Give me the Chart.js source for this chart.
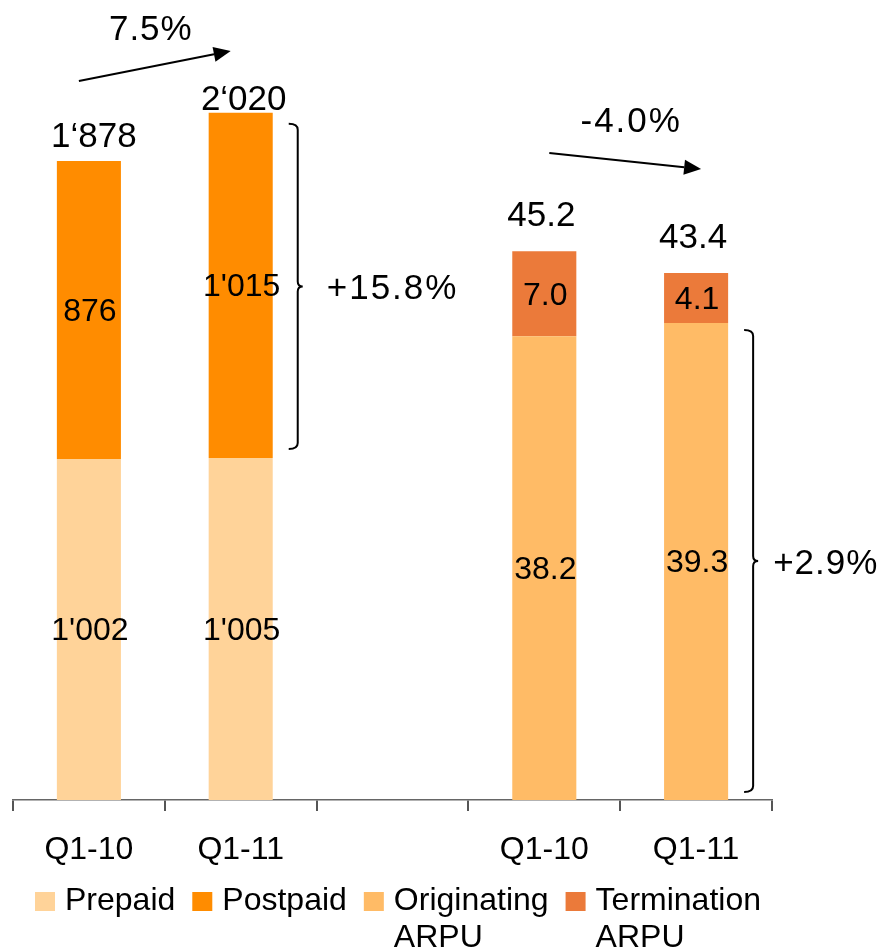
<!DOCTYPE html>
<html>
<head>
<meta charset="utf-8">
<script src="https://cdn.jsdelivr.net/npm/chart.js@4.4.1/dist/chart.umd.min.js"></script>
<style>
  html, body { margin: 0; padding: 0; background: #fff; }
  #wrap { position: relative; width: 886px; height: 950px; }
</style>
</head>
<body>
<div id="wrap"><canvas id="c" width="886" height="950"></canvas></div>
<script>
// ---- Data ----
const categories = ['Q1-10', 'Q1-11', '', 'Q1-10', 'Q1-11'];
const prepaid     = [1002, 1005, null, null, null];
const postpaid    = [876, 1015, null, null, null];
const originating = [null, null, null, 38.2, 39.3];
const termination = [null, null, null, 7.0, 4.1];
const legendLabels = [['Prepaid'], ['Postpaid'], ['Originating', 'ARPU'], ['Termination', 'ARPU']];
const growthLabels = ['7.5%', '-4.0%'];
const bracketLabels = ['+15.8%', '+2.9%'];

const FONT = '"Liberation Sans", Arial, sans-serif';
const colors = ['#FFD399', '#FF8C00', '#FFBB66', '#EB7A3A'];

function fmtThousands(v, sep) {
  const s = String(Math.round(v));
  return s.length > 3 ? s.slice(0, s.length - 3) + sep + s.slice(-3) : s;
}
function fmtVal(v, left, sep) {
  return left ? fmtThousands(v, sep) : v.toFixed(1);
}

const annot = {
  id: 'annot',
  afterDatasetsDraw(chart) {
    const ctx = chart.ctx;
    const ca = chart.chartArea;
    const metas = [0, 1, 2, 3].map(i => chart.getDatasetMeta(i));
    ctx.save();
    ctx.fillStyle = '#000';
    ctx.textAlign = 'center';
    // segment labels
    metas.forEach((m, di) => {
      m.data.forEach((el, j) => {
        const v = chart.data.datasets[di].data[j];
        if (v == null) return;
        ctx.font = '32px ' + FONT;
        ctx.textBaseline = 'middle';
        ctx.fillText(fmtVal(v, di < 2, "'"), el.x + 1, (el.y + el.base) / 2 + 2);
      });
    });
    // totals
    const gaps = [14, 3, 0, 25, 25];
    const xoff = [5, 3, 0, -3, -3];
    for (let j = 0; j < categories.length; j++) {
      const left = j < 2;
      const a = left ? prepaid[j] : originating[j];
      const b = left ? postpaid[j] : termination[j];
      if (a == null) continue;
      const topEl = left ? metas[1].data[j] : metas[3].data[j];
      ctx.font = '35px ' + FONT;
      ctx.textBaseline = 'alphabetic';
      ctx.fillText(fmtVal(a + b, left, '\u2018'), topEl.x + xoff[j], topEl.y - gaps[j]);
    }
    // growth arrows
    function arrow(x1, y1, x2, y2) {
      ctx.strokeStyle = '#000'; ctx.lineWidth = 2;
      const ang = Math.atan2(y2 - y1, x2 - x1);
      const hl = 17, hw = 7.5;
      const bx = x2 - hl * Math.cos(ang), by = y2 - hl * Math.sin(ang);
      ctx.beginPath(); ctx.moveTo(x1, y1); ctx.lineTo(bx, by); ctx.stroke();
      ctx.beginPath();
      ctx.moveTo(x2, y2);
      ctx.lineTo(bx + hw * Math.sin(ang), by - hw * Math.cos(ang));
      ctx.lineTo(bx - hw * Math.sin(ang), by + hw * Math.cos(ang));
      ctx.closePath(); ctx.fill();
    }
    const b0 = metas[1].data[0], b1 = metas[1].data[1];
    const b3 = metas[3].data[3], b4 = metas[3].data[4];
    arrow(b0.x - 10, ca.top + 41, b1.x - 10, ca.top + 11);
    arrow(b3.x + 5, ca.top + 113, b4.x + 5, ca.top + 129);
    ctx.font = '35px ' + FONT;
    ctx.textBaseline = 'alphabetic';
    ctx.letterSpacing = '1px';
    ctx.fillText(growthLabels[0], (b0.x + b1.x) / 2 - 14, ca.top + 0);
    ctx.letterSpacing = '2px';
    ctx.fillText(growthLabels[1], (b3.x + b4.x) / 2 + 11, ca.top + 92);
    // brackets
    function brace(x, top, bot, label, tx, ls) {
      const mid = (top + bot) / 2;
      ctx.strokeStyle = '#000'; ctx.lineWidth = 2;
      ctx.beginPath();
      ctx.moveTo(x - 9, top);
      ctx.quadraticCurveTo(x, top, x, top + 6);
      ctx.lineTo(x, mid - 5);
      ctx.quadraticCurveTo(x, mid, x + 5, mid);
      ctx.quadraticCurveTo(x, mid, x, mid + 5);
      ctx.lineTo(x, bot - 6);
      ctx.quadraticCurveTo(x, bot, x - 9, bot);
      ctx.stroke();
      ctx.textAlign = 'left';
      ctx.font = '35px ' + FONT;
      ctx.textBaseline = 'alphabetic';
      ctx.letterSpacing = ls;
      ctx.fillText(label, tx, mid + 13);
    }
    const p1 = metas[1].data[1];
    brace(p1.x + p1.width / 2 + 25, p1.y + 11, p1.base - 9, bracketLabels[0], p1.x + p1.width / 2 + 54, '2px');
    const o4 = metas[2].data[4];
    brace(o4.x + o4.width / 2 + 25, o4.y + 7, o4.base - 8, bracketLabels[1], o4.x + o4.width / 2 + 45, '1px');
    ctx.letterSpacing = '0px';
    // legend
    ctx.textAlign = 'left';
    ctx.font = '32px ' + FONT;
    let x = 35;
    legendLabels.forEach((lines, i) => {
      ctx.fillStyle = colors[i];
      ctx.fillRect(x, 892, 20, 19);
      ctx.fillStyle = '#000';
      let w = 0;
      lines.forEach((ln, k) => {
        ctx.fillText(ln, x + 30, 910 + k * 37);
        w = Math.max(w, ctx.measureText(ln).width);
      });
      x += 30 + w + 17;
    });
    ctx.restore();
  }
};

new Chart(document.getElementById('c'), {
  type: 'bar',
  data: {
    labels: categories,
    datasets: [
      { label: 'Prepaid', data: prepaid, backgroundColor: colors[0], yAxisID: 'y' },
      { label: 'Postpaid', data: postpaid, backgroundColor: colors[1], yAxisID: 'y' },
      { label: 'Originating ARPU', data: originating, backgroundColor: colors[2], yAxisID: 'y2' },
      { label: 'Termination ARPU', data: termination, backgroundColor: colors[3], yAxisID: 'y2' }
    ]
  },
  options: {
    responsive: false,
    animation: false,
    layout: { padding: { left: 13, right: 114, top: 40, bottom: 80 } },
    datasets: { bar: { categoryPercentage: 1, barPercentage: 0.422 } },
    plugins: { legend: { display: false }, tooltip: { enabled: false } },
    scales: {
      x: {
        stacked: true,
        afterFit(scale) { scale.height = 70; },
        border: { display: true, color: '#666', width: 1.5 },
        grid: { display: true, drawOnChartArea: false, drawTicks: true, tickLength: 11, color: '#555', lineWidth: 2, offset: true },
        ticks: { color: '#000', font: { family: FONT, size: 32 }, padding: 20, autoSkip: false, maxRotation: 0 }
      },
      y: { display: false, stacked: true, min: 0, max: 2234 },
      y2: { display: false, stacked: true, min: 0, max: 62.6 }
    }
  },
  plugins: [annot]
});
</script>
</body>
</html>
